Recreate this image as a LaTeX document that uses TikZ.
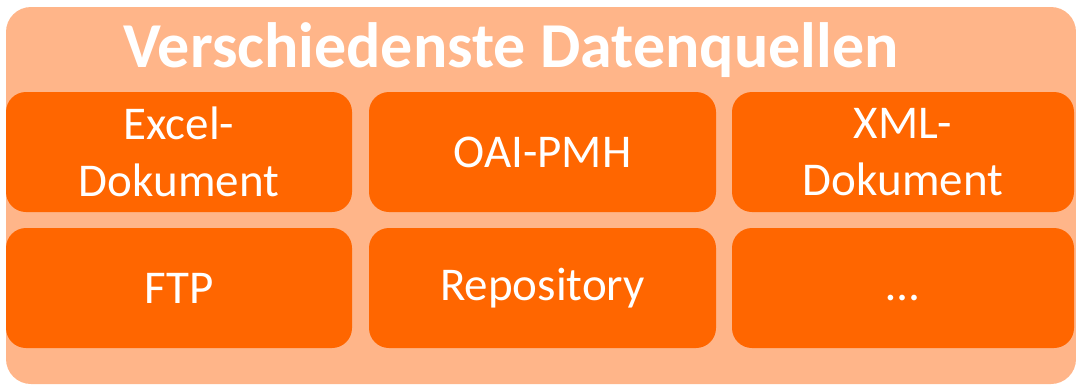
\documentclass[tikz,border=0pt]{standalone}
\usepackage{fontspec}
\setmainfont{Carlito}
\definecolor{outerc}{HTML}{FFB589}
\definecolor{innerc}{HTML}{FF6600}
\begin{document}
\begin{tikzpicture}[x=1pt,y=-1pt,
  box/.style={fill=innerc, rounded corners=20pt, inner sep=0pt, text=white,
    font=\fontsize{47}{57}\selectfont, align=center, minimum height=120pt},
  frame/.style={fill=outerc, rounded corners=25pt, inner sep=0pt}]
\useasboundingbox (0,0) rectangle (1076,386);
\node[frame, minimum width=1070pt, minimum height=377pt] (frame) at (541,195.5) {};
\node[text=white, font=\fontsize{64}{72}\selectfont\bfseries, anchor=base] (title) at (511,67) {Verschiedenste Datenquellen};
\node[box, minimum width=346pt] (excel) at (179,152) {Excel-\\Dokument};
\node[box, minimum width=347pt] (oai) at (542.5,152) {OAI-PMH};
\node[box, minimum width=342pt] (xml) at (903,152) {XML-\\Dokument};
\node[box, minimum width=346pt] (ftp) at (179,288) {FTP};
\node[box, minimum width=347pt] (repo) at (542.5,288) {Repository};
\node[box, minimum width=342pt] (etc) at (903,288) {\vphantom{Repository}…};
\end{tikzpicture}
\end{document}
